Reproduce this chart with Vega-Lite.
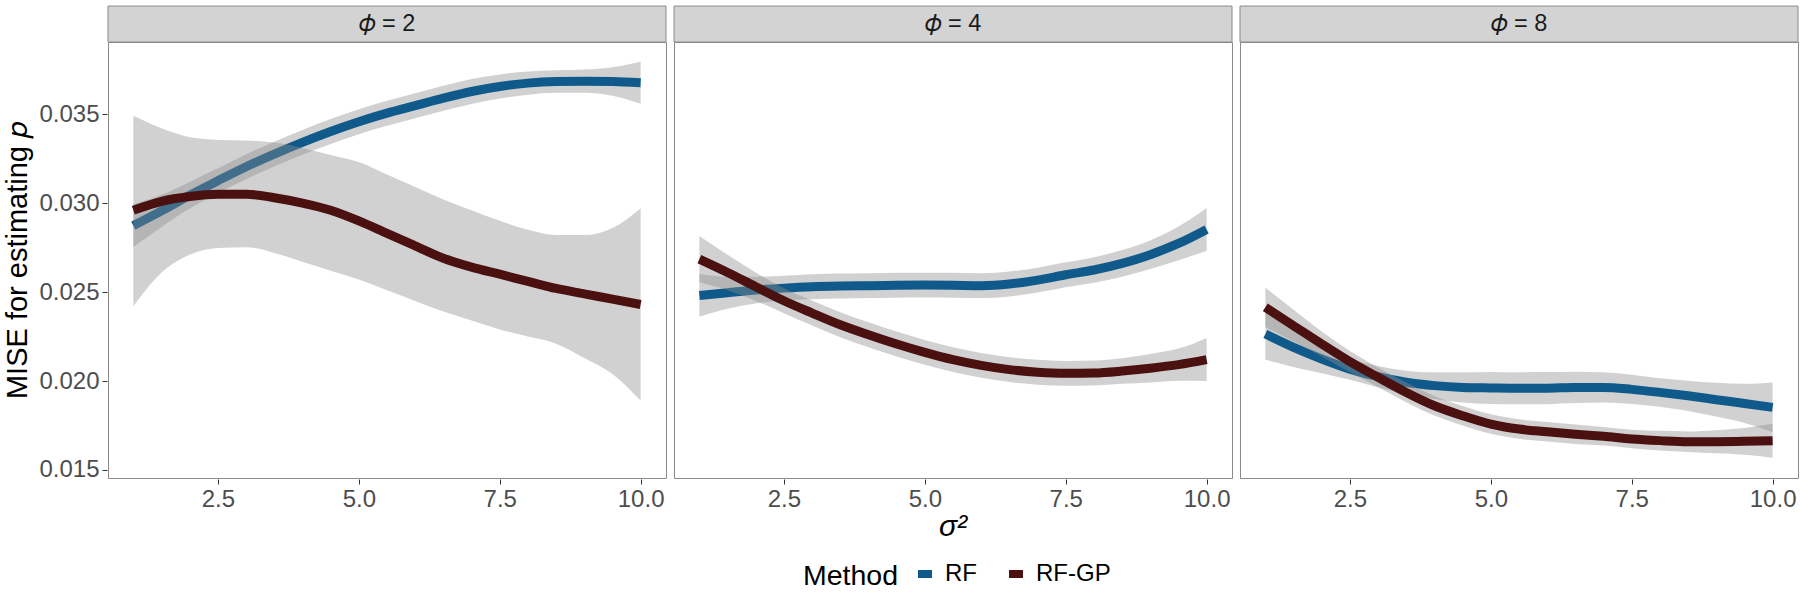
{
  "$schema": "https://vega.github.io/schema/vega-lite/v6.json",
  "background": "white",
  "padding": {"left": 3, "right": 0, "top": 5, "bottom": 5},
  "data": {
    "values": [
      {"panel": "𝜙 = 2", "method": "RF", "s2": 1, "mise": 0.02873, "lo": 0.02753, "hi": 0.02993},
      {"panel": "𝜙 = 2", "method": "RF", "s2": 1.5, "mise": 0.02956, "lo": 0.02866, "hi": 0.03046},
      {"panel": "𝜙 = 2", "method": "RF", "s2": 2, "mise": 0.03044, "lo": 0.02969, "hi": 0.03119},
      {"panel": "𝜙 = 2", "method": "RF", "s2": 2.5, "mise": 0.03125, "lo": 0.03055, "hi": 0.03195},
      {"panel": "𝜙 = 2", "method": "RF", "s2": 3, "mise": 0.03204, "lo": 0.03134, "hi": 0.03274},
      {"panel": "𝜙 = 2", "method": "RF", "s2": 3.5, "mise": 0.03275, "lo": 0.03205, "hi": 0.03345},
      {"panel": "𝜙 = 2", "method": "RF", "s2": 4, "mise": 0.03341, "lo": 0.03271, "hi": 0.03411},
      {"panel": "𝜙 = 2", "method": "RF", "s2": 4.5, "mise": 0.03402, "lo": 0.03332, "hi": 0.03472},
      {"panel": "𝜙 = 2", "method": "RF", "s2": 5, "mise": 0.03457, "lo": 0.03387, "hi": 0.03527},
      {"panel": "𝜙 = 2", "method": "RF", "s2": 5.5, "mise": 0.03505, "lo": 0.03435, "hi": 0.03575},
      {"panel": "𝜙 = 2", "method": "RF", "s2": 6, "mise": 0.03547, "lo": 0.03477, "hi": 0.03617},
      {"panel": "𝜙 = 2", "method": "RF", "s2": 6.5, "mise": 0.03589, "lo": 0.03519, "hi": 0.03659},
      {"panel": "𝜙 = 2", "method": "RF", "s2": 7, "mise": 0.03627, "lo": 0.03557, "hi": 0.03697},
      {"panel": "𝜙 = 2", "method": "RF", "s2": 7.5, "mise": 0.03655, "lo": 0.03587, "hi": 0.03723},
      {"panel": "𝜙 = 2", "method": "RF", "s2": 8, "mise": 0.03674, "lo": 0.03609, "hi": 0.03739},
      {"panel": "𝜙 = 2", "method": "RF", "s2": 8.5, "mise": 0.03683, "lo": 0.0362, "hi": 0.03746},
      {"panel": "𝜙 = 2", "method": "RF", "s2": 9, "mise": 0.03685, "lo": 0.0362, "hi": 0.0375},
      {"panel": "𝜙 = 2", "method": "RF", "s2": 9.5, "mise": 0.03683, "lo": 0.03603, "hi": 0.03763},
      {"panel": "𝜙 = 2", "method": "RF", "s2": 10, "mise": 0.03676, "lo": 0.03558, "hi": 0.03794},
      {"panel": "𝜙 = 2", "method": "RF-GP", "s2": 1, "mise": 0.0296, "lo": 0.0242, "hi": 0.0349},
      {"panel": "𝜙 = 2", "method": "RF-GP", "s2": 1.5, "mise": 0.0301, "lo": 0.0261, "hi": 0.0342},
      {"panel": "𝜙 = 2", "method": "RF-GP", "s2": 2, "mise": 0.03037, "lo": 0.0271, "hi": 0.0337},
      {"panel": "𝜙 = 2", "method": "RF-GP", "s2": 2.5, "mise": 0.0305, "lo": 0.02748, "hi": 0.03355},
      {"panel": "𝜙 = 2", "method": "RF-GP", "s2": 3, "mise": 0.0305, "lo": 0.02752, "hi": 0.03352},
      {"panel": "𝜙 = 2", "method": "RF-GP", "s2": 3.5, "mise": 0.0303, "lo": 0.0272, "hi": 0.0334},
      {"panel": "𝜙 = 2", "method": "RF-GP", "s2": 4, "mise": 0.03, "lo": 0.0267, "hi": 0.0331},
      {"panel": "𝜙 = 2", "method": "RF-GP", "s2": 4.5, "mise": 0.0296, "lo": 0.0262, "hi": 0.0327},
      {"panel": "𝜙 = 2", "method": "RF-GP", "s2": 5, "mise": 0.029, "lo": 0.0257, "hi": 0.0323},
      {"panel": "𝜙 = 2", "method": "RF-GP", "s2": 5.5, "mise": 0.0283, "lo": 0.0251, "hi": 0.0316},
      {"panel": "𝜙 = 2", "method": "RF-GP", "s2": 6, "mise": 0.0276, "lo": 0.0245, "hi": 0.0309},
      {"panel": "𝜙 = 2", "method": "RF-GP", "s2": 6.5, "mise": 0.0269, "lo": 0.0239, "hi": 0.0302},
      {"panel": "𝜙 = 2", "method": "RF-GP", "s2": 7, "mise": 0.0264, "lo": 0.0234, "hi": 0.0296},
      {"panel": "𝜙 = 2", "method": "RF-GP", "s2": 7.5, "mise": 0.026, "lo": 0.0229, "hi": 0.029},
      {"panel": "𝜙 = 2", "method": "RF-GP", "s2": 8, "mise": 0.0256, "lo": 0.0225, "hi": 0.0285},
      {"panel": "𝜙 = 2", "method": "RF-GP", "s2": 8.5, "mise": 0.0252, "lo": 0.0221, "hi": 0.0282},
      {"panel": "𝜙 = 2", "method": "RF-GP", "s2": 9, "mise": 0.0249, "lo": 0.0213, "hi": 0.0282},
      {"panel": "𝜙 = 2", "method": "RF-GP", "s2": 9.5, "mise": 0.0246, "lo": 0.0204, "hi": 0.0286},
      {"panel": "𝜙 = 2", "method": "RF-GP", "s2": 10, "mise": 0.0243, "lo": 0.0189, "hi": 0.0297},
      {"panel": "𝜙 = 4", "method": "RF", "s2": 1, "mise": 0.02481, "lo": 0.02361, "hi": 0.02601},
      {"panel": "𝜙 = 4", "method": "RF", "s2": 1.5, "mise": 0.02496, "lo": 0.02406, "hi": 0.02586},
      {"panel": "𝜙 = 4", "method": "RF", "s2": 2, "mise": 0.02511, "lo": 0.02436, "hi": 0.02586},
      {"panel": "𝜙 = 4", "method": "RF", "s2": 2.5, "mise": 0.02522, "lo": 0.02452, "hi": 0.02592},
      {"panel": "𝜙 = 4", "method": "RF", "s2": 3, "mise": 0.0253, "lo": 0.0246, "hi": 0.026},
      {"panel": "𝜙 = 4", "method": "RF", "s2": 3.5, "mise": 0.02534, "lo": 0.02464, "hi": 0.02604},
      {"panel": "𝜙 = 4", "method": "RF", "s2": 4, "mise": 0.02536, "lo": 0.02466, "hi": 0.02606},
      {"panel": "𝜙 = 4", "method": "RF", "s2": 4.5, "mise": 0.02538, "lo": 0.02468, "hi": 0.02608},
      {"panel": "𝜙 = 4", "method": "RF", "s2": 5, "mise": 0.02539, "lo": 0.02469, "hi": 0.02609},
      {"panel": "𝜙 = 4", "method": "RF", "s2": 5.5, "mise": 0.02538, "lo": 0.02468, "hi": 0.02608},
      {"panel": "𝜙 = 4", "method": "RF", "s2": 6, "mise": 0.02536, "lo": 0.02466, "hi": 0.02606},
      {"panel": "𝜙 = 4", "method": "RF", "s2": 6.5, "mise": 0.02545, "lo": 0.02475, "hi": 0.02615},
      {"panel": "𝜙 = 4", "method": "RF", "s2": 7, "mise": 0.02567, "lo": 0.02497, "hi": 0.02637},
      {"panel": "𝜙 = 4", "method": "RF", "s2": 7.5, "mise": 0.02597, "lo": 0.02527, "hi": 0.02667},
      {"panel": "𝜙 = 4", "method": "RF", "s2": 8, "mise": 0.02624, "lo": 0.02552, "hi": 0.02696},
      {"panel": "𝜙 = 4", "method": "RF", "s2": 8.5, "mise": 0.02661, "lo": 0.02586, "hi": 0.02736},
      {"panel": "𝜙 = 4", "method": "RF", "s2": 9, "mise": 0.0271, "lo": 0.0263, "hi": 0.0279},
      {"panel": "𝜙 = 4", "method": "RF", "s2": 9.5, "mise": 0.02773, "lo": 0.02678, "hi": 0.02868},
      {"panel": "𝜙 = 4", "method": "RF", "s2": 10, "mise": 0.02852, "lo": 0.02732, "hi": 0.02972},
      {"panel": "𝜙 = 4", "method": "RF-GP", "s2": 1, "mise": 0.02685, "lo": 0.02555, "hi": 0.02815},
      {"panel": "𝜙 = 4", "method": "RF-GP", "s2": 1.5, "mise": 0.0261, "lo": 0.0251, "hi": 0.0271},
      {"panel": "𝜙 = 4", "method": "RF-GP", "s2": 2, "mise": 0.0253, "lo": 0.0245, "hi": 0.0261},
      {"panel": "𝜙 = 4", "method": "RF-GP", "s2": 2.5, "mise": 0.02451, "lo": 0.02381, "hi": 0.02521},
      {"panel": "𝜙 = 4", "method": "RF-GP", "s2": 3, "mise": 0.02382, "lo": 0.02312, "hi": 0.02452},
      {"panel": "𝜙 = 4", "method": "RF-GP", "s2": 3.5, "mise": 0.02316, "lo": 0.02246, "hi": 0.02386},
      {"panel": "𝜙 = 4", "method": "RF-GP", "s2": 4, "mise": 0.0226, "lo": 0.0219, "hi": 0.0233},
      {"panel": "𝜙 = 4", "method": "RF-GP", "s2": 4.5, "mise": 0.02208, "lo": 0.02138, "hi": 0.02278},
      {"panel": "𝜙 = 4", "method": "RF-GP", "s2": 5, "mise": 0.02161, "lo": 0.02091, "hi": 0.02231},
      {"panel": "𝜙 = 4", "method": "RF-GP", "s2": 5.5, "mise": 0.0212, "lo": 0.0205, "hi": 0.0219},
      {"panel": "𝜙 = 4", "method": "RF-GP", "s2": 6, "mise": 0.02088, "lo": 0.02018, "hi": 0.02158},
      {"panel": "𝜙 = 4", "method": "RF-GP", "s2": 6.5, "mise": 0.02064, "lo": 0.01994, "hi": 0.02134},
      {"panel": "𝜙 = 4", "method": "RF-GP", "s2": 7, "mise": 0.02049, "lo": 0.01979, "hi": 0.02119},
      {"panel": "𝜙 = 4", "method": "RF-GP", "s2": 7.5, "mise": 0.02043, "lo": 0.01973, "hi": 0.02113},
      {"panel": "𝜙 = 4", "method": "RF-GP", "s2": 8, "mise": 0.02045, "lo": 0.01975, "hi": 0.02115},
      {"panel": "𝜙 = 4", "method": "RF-GP", "s2": 8.5, "mise": 0.02056, "lo": 0.01984, "hi": 0.02128},
      {"panel": "𝜙 = 4", "method": "RF-GP", "s2": 9, "mise": 0.02072, "lo": 0.01992, "hi": 0.02152},
      {"panel": "𝜙 = 4", "method": "RF-GP", "s2": 9.5, "mise": 0.02092, "lo": 0.02002, "hi": 0.02182},
      {"panel": "𝜙 = 4", "method": "RF-GP", "s2": 10, "mise": 0.0212, "lo": 0.02, "hi": 0.0224},
      {"panel": "𝜙 = 8", "method": "RF", "s2": 1, "mise": 0.02264, "lo": 0.02119, "hi": 0.02409},
      {"panel": "𝜙 = 8", "method": "RF", "s2": 1.5, "mise": 0.02189, "lo": 0.02079, "hi": 0.02299},
      {"panel": "𝜙 = 8", "method": "RF", "s2": 2, "mise": 0.02124, "lo": 0.02044, "hi": 0.02204},
      {"panel": "𝜙 = 8", "method": "RF", "s2": 2.5, "mise": 0.02067, "lo": 0.02007, "hi": 0.02127},
      {"panel": "𝜙 = 8", "method": "RF", "s2": 3, "mise": 0.02024, "lo": 0.01964, "hi": 0.02084},
      {"panel": "𝜙 = 8", "method": "RF", "s2": 3.5, "mise": 0.01993, "lo": 0.01928, "hi": 0.02058},
      {"panel": "𝜙 = 8", "method": "RF", "s2": 4, "mise": 0.01974, "lo": 0.01899, "hi": 0.02049},
      {"panel": "𝜙 = 8", "method": "RF", "s2": 4.5, "mise": 0.01964, "lo": 0.01879, "hi": 0.02049},
      {"panel": "𝜙 = 8", "method": "RF", "s2": 5, "mise": 0.01961, "lo": 0.01871, "hi": 0.02051},
      {"panel": "𝜙 = 8", "method": "RF", "s2": 5.5, "mise": 0.01959, "lo": 0.01869, "hi": 0.02049},
      {"panel": "𝜙 = 8", "method": "RF", "s2": 6, "mise": 0.0196, "lo": 0.0187, "hi": 0.0205},
      {"panel": "𝜙 = 8", "method": "RF", "s2": 6.5, "mise": 0.01964, "lo": 0.01876, "hi": 0.02052},
      {"panel": "𝜙 = 8", "method": "RF", "s2": 7, "mise": 0.01964, "lo": 0.01879, "hi": 0.02049},
      {"panel": "𝜙 = 8", "method": "RF", "s2": 7.5, "mise": 0.01953, "lo": 0.01871, "hi": 0.02035},
      {"panel": "𝜙 = 8", "method": "RF", "s2": 8, "mise": 0.01936, "lo": 0.01856, "hi": 0.02016},
      {"panel": "𝜙 = 8", "method": "RF", "s2": 8.5, "mise": 0.01917, "lo": 0.01832, "hi": 0.02002},
      {"panel": "𝜙 = 8", "method": "RF", "s2": 9, "mise": 0.01895, "lo": 0.018, "hi": 0.0199},
      {"panel": "𝜙 = 8", "method": "RF", "s2": 9.5, "mise": 0.01874, "lo": 0.01764, "hi": 0.01984},
      {"panel": "𝜙 = 8", "method": "RF", "s2": 10, "mise": 0.01852, "lo": 0.01712, "hi": 0.01992},
      {"panel": "𝜙 = 8", "method": "RF-GP", "s2": 1, "mise": 0.02414, "lo": 0.02304, "hi": 0.02524},
      {"panel": "𝜙 = 8", "method": "RF-GP", "s2": 1.5, "mise": 0.02311, "lo": 0.02221, "hi": 0.02401},
      {"panel": "𝜙 = 8", "method": "RF-GP", "s2": 2, "mise": 0.02208, "lo": 0.02138, "hi": 0.02278},
      {"panel": "𝜙 = 8", "method": "RF-GP", "s2": 2.5, "mise": 0.02109, "lo": 0.02049, "hi": 0.02169},
      {"panel": "𝜙 = 8", "method": "RF-GP", "s2": 3, "mise": 0.02021, "lo": 0.01966, "hi": 0.02076},
      {"panel": "𝜙 = 8", "method": "RF-GP", "s2": 3.5, "mise": 0.01936, "lo": 0.01881, "hi": 0.01991},
      {"panel": "𝜙 = 8", "method": "RF-GP", "s2": 4, "mise": 0.01861, "lo": 0.01806, "hi": 0.01916},
      {"panel": "𝜙 = 8", "method": "RF-GP", "s2": 4.5, "mise": 0.01805, "lo": 0.0175, "hi": 0.0186},
      {"panel": "𝜙 = 8", "method": "RF-GP", "s2": 5, "mise": 0.01758, "lo": 0.01703, "hi": 0.01813},
      {"panel": "𝜙 = 8", "method": "RF-GP", "s2": 5.5, "mise": 0.0173, "lo": 0.01675, "hi": 0.01785},
      {"panel": "𝜙 = 8", "method": "RF-GP", "s2": 6, "mise": 0.01715, "lo": 0.0166, "hi": 0.0177},
      {"panel": "𝜙 = 8", "method": "RF-GP", "s2": 6.5, "mise": 0.01701, "lo": 0.01646, "hi": 0.01756},
      {"panel": "𝜙 = 8", "method": "RF-GP", "s2": 7, "mise": 0.01689, "lo": 0.01637, "hi": 0.01741},
      {"panel": "𝜙 = 8", "method": "RF-GP", "s2": 7.5, "mise": 0.01674, "lo": 0.01622, "hi": 0.01726},
      {"panel": "𝜙 = 8", "method": "RF-GP", "s2": 8, "mise": 0.01665, "lo": 0.0161, "hi": 0.0172},
      {"panel": "𝜙 = 8", "method": "RF-GP", "s2": 8.5, "mise": 0.01659, "lo": 0.01601, "hi": 0.01717},
      {"panel": "𝜙 = 8", "method": "RF-GP", "s2": 9, "mise": 0.01659, "lo": 0.01594, "hi": 0.01724},
      {"panel": "𝜙 = 8", "method": "RF-GP", "s2": 9.5, "mise": 0.01661, "lo": 0.01586, "hi": 0.01736},
      {"panel": "𝜙 = 8", "method": "RF-GP", "s2": 10, "mise": 0.01665, "lo": 0.01569, "hi": 0.01761}
    ]
  },
  "facet": {
    "column": {
      "field": "panel",
      "type": "nominal",
      "header": {
        "labels": false,
        "title": "σ²",
        "titleOrient": "bottom",
        "titleFont": "Liberation Sans",
        "titleFontSize": 30,
        "titleFontStyle": "italic",
        "titleFontWeight": "normal",
        "titleColor": "black",
        "titlePadding": -9
      }
    }
  },
  "spacing": 6,
  "spec": {
    "width": 558,
    "height": 436,
    "layer": [
      {
        "transform": [{"filter": "datum.s2 == 1 && datum.method == 'RF'"}],
        "mark": {"type": "rect", "fill": "#D3D3D3", "stroke": "#8A8A8A", "strokeWidth": 1, "clip": false},
        "encoding": {
          "x": {"datum": 0.55, "type": "quantitative"},
          "x2": {"datum": 10.45},
          "y": {"datum": 0.03905, "type": "quantitative"},
          "y2": {"datum": 0.04107}
        }
      },
      {
        "transform": [{"filter": "datum.s2 == 1 && datum.method == 'RF'"}],
        "mark": {"type": "text", "font": "Liberation Sans", "fontSize": 23.5, "color": "#1A1A1A", "align": "center", "baseline": "middle", "clip": false},
        "encoding": {
          "x": {"datum": 5.5, "type": "quantitative"},
          "y": {"datum": 0.04006, "type": "quantitative"},
          "text": {"field": "panel", "type": "nominal"}
        }
      },
      {
        "transform": [{"filter": "datum.method == 'RF'"}],
        "mark": {"type": "area", "fill": "#8C8C8C", "opacity": 0.4, "interpolate": "monotone"},
        "encoding": {
          "x": {"field": "s2", "type": "quantitative"},
          "y": {"field": "lo", "type": "quantitative"},
          "y2": {"field": "hi"}
        }
      },
      {
        "transform": [{"filter": "datum.method == 'RF'"}],
        "mark": {"type": "line", "strokeWidth": 9, "strokeCap": "butt", "interpolate": "monotone"},
        "encoding": {
          "x": {"field": "s2", "type": "quantitative"},
          "y": {"field": "mise", "type": "quantitative"},
          "color": {"field": "method", "type": "nominal"}
        }
      },
      {
        "transform": [{"filter": "datum.method == 'RF-GP'"}],
        "mark": {"type": "area", "fill": "#8C8C8C", "opacity": 0.4, "interpolate": "monotone"},
        "encoding": {
          "x": {"field": "s2", "type": "quantitative"},
          "y": {"field": "lo", "type": "quantitative"},
          "y2": {"field": "hi"}
        }
      },
      {
        "transform": [{"filter": "datum.method == 'RF-GP'"}],
        "mark": {"type": "line", "strokeWidth": 9, "strokeCap": "butt", "interpolate": "monotone"},
        "encoding": {
          "x": {
            "field": "s2",
            "type": "quantitative",
            "scale": {"domain": [0.55, 10.45], "nice": false, "zero": false},
            "axis": {
              "title": null,
              "values": [1.25, 2.5, 3.75, 5, 6.25, 7.5, 8.75, 10],
              "labelExpr": "datum.value % 2.5 === 0 ? format(datum.value, '.1f') : ''",
              "tickOpacity": {"condition": {"test": "datum.value % 2.5 === 0", "value": 1}, "value": 0},
              "gridWidth": {"condition": {"test": "datum.value % 2.5 === 0", "value": 1.5}, "value": 0.8},
              "gridColor": {"condition": {"test": "datum.value % 2.5 === 0", "value": "#EBEBEB"}, "value": "#EFEFEF"}
            }
          },
          "y": {
            "field": "mise",
            "type": "quantitative",
            "scale": {"domain": [0.01455, 0.03905], "nice": false, "zero": false},
            "axis": {
              "title": "MISE for estimating 𝑝",
              "values": [0.015, 0.0175, 0.02, 0.0225, 0.025, 0.0275, 0.03, 0.0325, 0.035, 0.0375],
              "labelExpr": "round(datum.value * 2000) % 10 === 0 ? format(datum.value, '.3f') : ''",
              "tickOpacity": {"condition": {"test": "round(datum.value * 2000) % 10 === 0", "value": 1}, "value": 0},
              "gridWidth": {"condition": {"test": "round(datum.value * 2000) % 10 === 0", "value": 1.5}, "value": 0.8},
              "gridColor": {"condition": {"test": "round(datum.value * 2000) % 10 === 0", "value": "#EBEBEB"}, "value": "#EFEFEF"}
            }
          },
          "color": {
            "field": "method",
            "type": "nominal",
            "scale": {"domain": ["RF", "RF-GP"], "range": ["#0F5A8B", "#4B1111"]},
            "legend": {
              "title": "Method",
              "orient": "none",
              "legendX": 695,
              "legendY": 520,
              "direction": "horizontal",
              "titleOrient": "left",
              "symbolType": "stroke",
              "symbolSize": 196,
              "symbolStrokeWidth": 8,
              "symbolOpacity": 1
            }
          }
        }
      }
    ]
  },
  "config": {
    "view": {"stroke": "#8A8A8A", "strokeWidth": 1},
    "axis": {
      "domain": false,
      "labelFont": "Liberation Sans",
      "labelFontSize": 24,
      "labelColor": "#4D4D4D",
      "labelPadding": 3,
      "tickColor": "#333333",
      "tickSize": 5,
      "titleFont": "Liberation Sans",
      "titleFontSize": 29,
      "titleFontWeight": "normal",
      "titleColor": "black",
      "titlePadding": 6
    },
    "legend": {
      "titleFont": "Liberation Sans",
      "titleFontSize": 28.5,
      "titleFontWeight": "normal",
      "titleColor": "black",
      "labelFont": "Liberation Sans",
      "labelFontSize": 24,
      "labelColor": "black",
      "titlePadding": 14,
      "columnPadding": 16,
      "labelOffset": 8
    }
  }
}
